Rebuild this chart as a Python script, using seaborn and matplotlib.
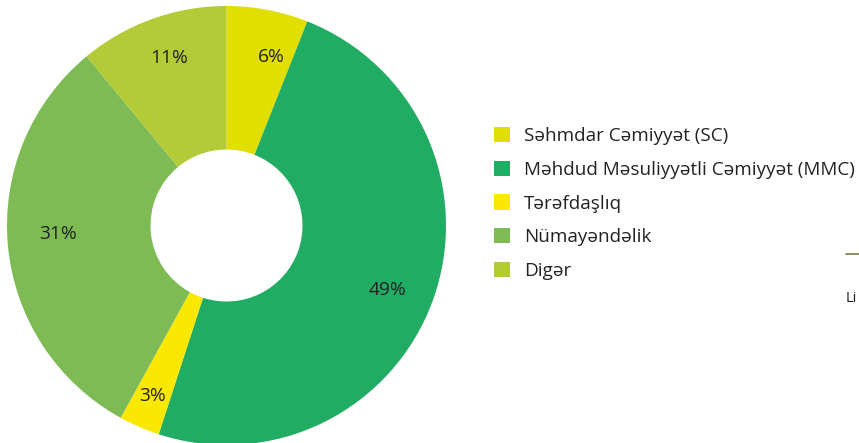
import matplotlib
matplotlib.use("Agg")
import matplotlib.pyplot as plt
import seaborn as sns
import numpy as np

# Company legal forms and their shares (%)
categories = [
    "Səhmdar Cəmiyyət (SC)",
    "Məhdud Məsuliyyətli Cəmiyyət (MMC)",
    "Tərəfdaşlıq",
    "Nümayəndəlik",
    "Digər",
]
shares = [6, 49, 3, 31, 11]
colors = ["#E0DF00", "#20AC62", "#FBE800", "#7EBB54", "#B2CB37"]

sns.set_theme(style="white")
plt.rcParams["font.family"] = ["Open Sans", "DejaVu Sans"]

W, H = 859, 443
fig = plt.figure(figsize=(W / 100, H / 100), dpi=100)

# Square axes in pixel terms so the donut keeps its round shape
R = 219.5
cx, cy = 226.5, 225.5
ax = fig.add_axes([(cx - R) / W, (H - cy - R) / H, 2 * R / W, 2 * R / H])

palette = sns.color_palette(colors)
wedges, texts, autotexts = ax.pie(
    shares,
    colors=palette,
    startangle=90,
    counterclock=False,
    radius=1.0,
    wedgeprops=dict(width=1 - 76 / R, linewidth=0),
    autopct="%.0f%%",
    pctdistance=0.8,
    textprops=dict(fontsize=13.8, color="#222222"),
)

# Per-slice label placement: distance from centre (fraction of radius)
# and a small clockwise nudge from the slice's mid-angle (degrees)
label_dist = [0.794, 0.792, 0.844, 0.769, 0.807]
label_nudge = [4.0, 2.0, 0.0, 2.5, 1.0]
for w, t, d, n in zip(wedges, autotexts, label_dist, label_nudge):
    ang = np.deg2rad((w.theta1 + w.theta2) / 2 - n)
    t.set_position((d * np.cos(ang), d * np.sin(ang)))

ax.set_xlim(-1, 1)
ax.set_ylim(-1, 1)
ax.axis("off")

leg = fig.legend(
    wedges,
    categories,
    loc="upper left",
    bbox_to_anchor=(494 / W, 1 - 127 / H),
    frameon=False,
    fontsize=13.6,
    handlelength=0.85,
    handleheight=0.85,
    handletextpad=0.75,
    labelspacing=0.83,
    borderpad=0,
    borderaxespad=0,
)
for txt in leg.get_texts():
    txt.set_color("#222222")

# Fragments of neighbouring content at the right edge
fig.add_artist(plt.Line2D([846 / W, 859 / W], [1 - 254 / H, 1 - 254 / H],
                          color="#6E7F4A", linewidth=1.2))
fig.text(846 / W, 1 - 298 / H, "Li", fontsize=10.5, color="#222222", va="center")

fig.savefig("out.png", dpi=100)
